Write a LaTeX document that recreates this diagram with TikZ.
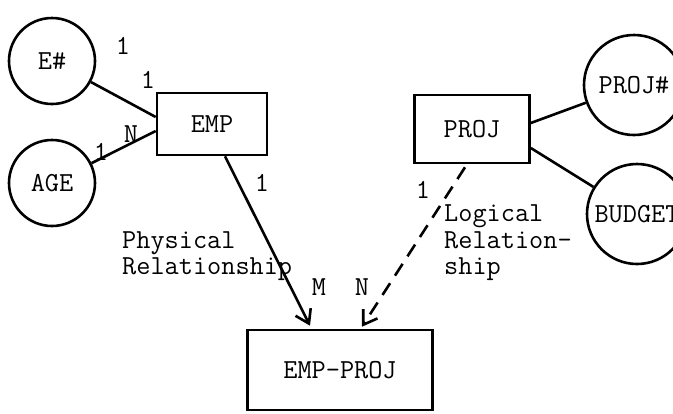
\documentclass[tikz,border=0pt]{standalone}
\usetikzlibrary{arrows.meta}
\begin{document}
\begin{tikzpicture}[x=1pt,y=-1pt,
  every node/.style={font=\fontsize{27.5}{26.5}\selectfont\ttfamily},
  attr/.style={draw,circle,line width=2.6pt,minimum size=#1,inner sep=0pt},
  ent/.style={draw,rectangle,line width=2.6pt,inner sep=0pt},
  conn/.style={line width=2.6pt},
  tip/.style={-{Straight Barb[length=13pt,width=17pt,line width=2.6pt]}},
  lbl/.style={inner sep=0pt}]
\useasboundingbox (0,0) rectangle (673,413);
% attributes
\node[attr=86] (enum) at (52,61) {E\#};
\node[attr=86] (age) at (52,183) {AGE};
\node[attr=100] (projnum) at (634,85) {PROJ\#};
\node[attr=100] (budget) at (637,214) {BUDGET};
% entities
\node[ent,minimum width=110pt,minimum height=62pt] (emp) at (212,124) {EMP};
\node[ent,minimum width=115pt,minimum height=68pt] (proj) at (472,129) {PROJ};
\node[ent,minimum width=185pt,minimum height=80pt] (empproj) at (340,370) {EMP-PROJ};
% connectors
\draw[conn] (enum) -- ([yshift=7pt]emp.west);
\draw[conn] (age) -- ([yshift=-7pt]emp.west);
\draw[conn] ([yshift=6pt]proj.east) -- (projnum);
\draw[conn] ([yshift=-19pt]proj.east) -- (budget);
\draw[conn,tip] ([xshift=13pt]emp.south) -- ([xshift=-30pt,yshift=3pt]empproj.north);
\draw[conn,tip,dash pattern=on 14pt off 9pt] ([xshift=-7pt,yshift=-3pt]proj.south) -- ([xshift=22pt,yshift=2pt]empproj.north);
% labels
\node[lbl] (l1) at (123,46) {1};
\node[lbl] (l2) at (148,80) {1};
\node[lbl] (l3) at (131,134) {N};
\node[lbl] (l4) at (101,152) {1};
\node[lbl] (l5) at (262,183) {1};
\node[lbl] (l6) at (423,190) {1};
\node[lbl] (lm) at (319,287) {M};
\node[lbl] (ln) at (362,287) {N};
\node[lbl,anchor=west,align=left] (phys) at (122,256) {Physical\\Relationship};
\node[lbl,anchor=west,align=left] (logi) at (444,243) {Logical\\Relation-\\ship};
\end{tikzpicture}
\end{document}
